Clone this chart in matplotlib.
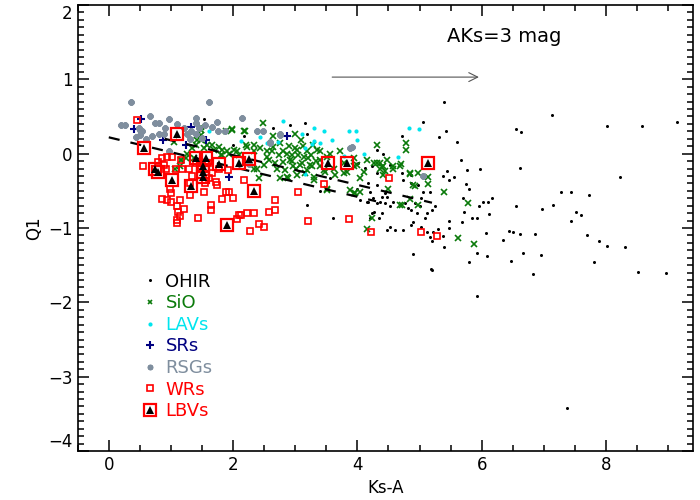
import matplotlib
matplotlib.use('Agg')
import matplotlib.pyplot as plt
from matplotlib.ticker import MultipleLocator
from matplotlib.lines import Line2D

# OH/IR stars
ohir_x = [5.39, 5.05, 4.72, 5.43, 5.32, 5.60, 7.13, 8.01, 8.58, 9.15, 6.55, 6.64, 5.66, 5.76, 5.98,
          5.44, 5.38, 5.48, 5.55, 6.61, 5.75, 5.80, 5.70, 5.96, 6.02, 6.10, 6.17, 6.11, 5.85, 5.92,
          5.71, 5.68, 5.47, 5.47, 5.29, 5.37, 5.20, 5.39, 5.20, 5.93, 5.80, 6.09, 5.93, 6.07, 6.35,
          6.44, 6.51, 6.62, 6.86, 6.56, 6.47, 6.66, 6.95, 6.83, 6.97, 7.14, 7.27, 7.44, 7.72, 7.43,
          7.51, 7.59, 7.69, 7.89, 8.01, 8.30, 7.80, 8.51, 8.22, 8.97, 7.37,
          4.15, 4.53, 4.71, 4.74, 4.87, 4.87, 4.98, 5.06, 5.17, 5.03, 4.93, 4.82, 4.87, 4.77, 4.96,
          5.01, 4.58, 4.45, 4.37, 4.31, 4.39, 4.45, 4.53, 4.26, 4.23, 4.39, 4.34, 4.21, 4.53, 4.61,
          4.87, 4.90, 5.09, 5.12, 5.20, 5.25, 5.03, 5.12, 5.22, 5.17, 4.47, 4.74,
          3.19, 3.40, 4.01, 4.13, 4.32, 4.17, 4.21, 4.17, 4.25, 4.47, 4.04, 3.99, 4.31, 4.31, 4.42,
          4.23, 3.56, 1.53, 2.17, 2.65, 2.91, 3.15, 3.19, 2.00, 3.60, 4.90, 5.18]
ohir_y = [0.70, 0.42, 0.24, 0.31, 0.22, 0.16, 0.52, 0.37, 0.37, 0.42, 0.33, 0.29, -0.08, -0.22, -0.21,
          -0.23, -0.30, -0.36, -0.32, -0.19, -0.41, -0.47, -0.60, -0.70, -0.65, -0.65, -0.60, -0.81, -0.86, -0.86,
          -0.78, -0.92, -0.90, -1.00, -1.02, -1.11, -1.17, -1.26, -1.57, -1.34, -1.46, -1.37, -1.91, -1.07, -1.16,
          -1.04, -1.05, -1.08, -1.08, -0.71, -1.45, -1.34, -1.36, -1.62, -0.74, -0.69, -0.52, -0.51, -0.55, -0.90,
          -0.78, -0.82, -1.09, -1.17, -1.24, -1.25, -1.46, -1.59, -0.32, -1.60, -3.42,
          -0.65, -0.15, -0.26, -0.35, -0.29, -0.40, -0.42, -0.51, -0.51, -0.59, -0.66, -0.73, -0.76, -0.67, -0.80,
          -0.71, -0.65, -0.67, -0.65, -0.67, -0.58, -0.53, -0.71, -0.78, -0.80, -0.80, -0.87, -0.87, -0.98, -1.03,
          -0.96, -0.92, -0.87, -0.80, -0.76, -0.71, -0.98, -1.05, -1.05, -1.12, -1.03, -1.03,
          -0.69, -0.50, -0.13, -0.19, -0.26, -0.39, -0.51, -0.65, -0.60, -0.58, -0.62, -0.47, -0.42, 0.05, 0.00,
          -0.17, -0.33, 0.46, 0.24, 0.34, 0.39, 0.41, 0.27, 0.12, -0.87, -1.35, -1.55]

# SiO masers
sio_x = [4.78, 4.78, 4.70, 4.84, 4.98, 5.13, 5.14, 4.92, 4.84, 4.71, 5.40, 5.78, 5.62, 5.88, 4.23,
         4.15, 4.50, 4.39, 4.45, 4.58, 4.32,
         1.49, 2.48, 1.99, 2.19, 2.65, 3.09, 3.00, 1.48, 1.42, 1.66, 1.82, 1.16, 1.37, 1.80, 1.93,
         2.07, 2.23, 2.33, 2.39, 2.41, 2.55, 2.65, 2.76, 2.81, 2.95, 3.03, 3.19, 3.29, 3.40, 3.51,
         2.81, 2.97, 3.08, 3.24, 3.40, 3.03, 3.30, 3.48, 2.76, 2.89, 1.05,
         2.20, 2.33, 2.44, 2.55, 2.63, 2.86, 2.92, 3.00, 3.05, 3.11, 3.21, 3.27, 3.35, 3.40, 3.46,
         3.56, 3.62, 3.64, 3.72, 3.78, 3.83, 3.94, 3.99, 4.04, 4.10, 4.15, 4.26, 4.31, 4.37, 4.42,
         4.47, 2.33, 2.71, 2.87, 3.19, 3.51, 3.88, 3.94,
         3.78, 3.94, 4.37, 4.42, 4.58, 4.69, 4.85, 4.90, 3.96, 4.04, 4.69, 4.98, 3.16, 3.30, 3.51,
         1.14, 1.17, 1.34, 1.40, 1.48, 1.42, 1.53, 1.58, 1.69, 1.77, 1.82, 1.90, 1.99, 1.88, 2.17,
         2.01, 2.09, 1.26, 1.24, 1.07, 1.48,
         2.68, 2.74, 2.84, 2.95, 3.02, 3.14, 3.25, 3.33, 2.58, 2.50, 2.90, 3.12]
sio_y = [0.14, 0.05, -0.14, -0.27, -0.26, -0.32, -0.41, -0.43, -0.61, -0.69, -0.52, -0.66, -1.14, -1.22, -0.86,
         -1.02, -0.47, -0.18, -0.23, -0.21, -0.13,
         0.36, 0.41, 0.33, 0.30, 0.24, 0.18, 0.27, 0.25, 0.18, 0.12, 0.05, -0.08, -0.06, -0.02, 0.00,
         0.03, 0.09, 0.12, -0.20, -0.33, 0.03, 0.09, 0.14, 0.03, -0.02, 0.05, 0.03, 0.12, 0.03, -0.04,
         -0.11, -0.17, -0.15, -0.15, -0.17, -0.29, -0.31, -0.24, -0.33, -0.33, 0.16,
         0.12, 0.03, 0.08, -0.04, 0.03, 0.00, -0.08, 0.07, -0.02, -0.13, -0.06, -0.17, 0.05, -0.08, -0.22,
         0.00, -0.20, -0.29, 0.03, -0.13, -0.24, -0.06, -0.15, -0.33, -0.24, -0.08, -0.13, 0.12, -0.20, -0.29,
         -0.08, -0.20, -0.20, -0.31, -0.22, -0.49, -0.49, -0.53,
         -0.26, -0.17, -0.12, -0.17, -0.17, -0.17, -0.26, -0.42, -0.53, -0.51, -0.69, -0.69, -0.26, -0.35, -0.47,
         -0.17, -0.08, 0.07, 0.12, 0.18, 0.25, 0.07, 0.12, 0.05, 0.09, -0.02, 0.03, 0.32, 0.30, 0.30,
         0.05, -0.02, 0.00, -0.06, -0.20, 0.32,
         -0.12, -0.02, -0.22, -0.10, -0.20, -0.05, -0.02, -0.10, -0.08, -0.15, 0.10, 0.10]

# LAVs
lav_x = [3.31, 3.46, 3.11, 3.86, 3.98, 3.59, 3.99, 3.30, 3.27, 3.40, 3.15, 4.10, 3.78, 4.83, 4.99,
         4.65, 3.16, 1.61, 2.12, 2.44, 2.55, 2.73, 2.81]
lav_y = [0.34, 0.31, 0.27, 0.31, 0.31, 0.18, 0.18, 0.17, 0.13, 0.14, 0.07, 0.00, -0.03, 0.34, 0.33,
         -0.04, -0.28, 0.30, 0.17, 0.23, 0.15, 0.16, 0.44]

# SRs
sr_x = [0.52, 0.41, 0.87, 1.33, 1.25, 1.57, 1.94, 2.86]
sr_y = [0.46, 0.33, 0.19, 0.36, 0.12, 0.19, -0.32, 0.24]

# RSGs
rsg_x = [0.36, 1.61, 0.67, 0.97, 0.19, 0.26, 0.49, 0.54, 0.43, 0.51, 0.75, 0.81, 0.69, 0.81, 0.89,
         1.21, 1.26, 1.40, 1.40, 1.32, 1.40, 1.45, 1.66, 1.74, 1.75, 1.87, 2.15, 2.39, 2.48, 2.60,
         2.76, 0.97, 2.25, 1.50, 0.51, 3.88, 5.06, 2.60, 3.91, 2.76, 0.60, 0.90, 1.10, 1.55, 1.30]
rsg_y = [0.69, 0.69, 0.51, 0.46, 0.39, 0.39, 0.34, 0.30, 0.23, 0.25, 0.41, 0.41, 0.24, 0.27, 0.27,
         0.34, 0.27, 0.48, 0.41, 0.30, 0.27, 0.34, 0.36, 0.42, 0.31, 0.31, 0.48, 0.31, 0.31, 0.16,
         0.25, 0.04, -0.14, 0.21, 0.32, 0.07, -0.30, 0.14, 0.09, 0.27, 0.20, 0.35, 0.40, 0.38, 0.20]

# WRs
wr_x = [0.46, 0.55, 0.86, 0.93, 1.02, 0.79, 0.89, 0.92, 1.08, 1.16, 1.18, 1.29, 1.66, 1.61, 1.72,
        1.77, 1.92, 2.17, 1.74, 1.54, 1.31, 1.14, 1.00, 0.98, 0.85, 0.94, 1.00, 1.09, 1.21, 1.11,
        1.14, 1.09, 1.10, 1.44, 1.64, 1.65, 1.82, 1.88, 1.94, 2.00, 2.09, 2.13, 2.23, 2.33, 2.07,
        2.42, 2.50, 2.28, 2.58, 2.68, 2.67, 3.05, 3.21, 1.40, 1.48, 4.51, 3.47, 3.86, 4.22, 5.02,
        5.28, 1.34, 1.30, 1.60, 1.55]
wr_y = [0.45, -0.17, -0.06, -0.05, -0.05, -0.11, -0.15, -0.21, -0.21, -0.08, -0.21, -0.21, -0.26, -0.33, -0.38,
        -0.20, -0.22, -0.35, -0.42, -0.51, -0.56, -0.62, -0.53, -0.47, -0.61, -0.62, -0.65, -0.70, -0.75, -0.79,
        -0.84, -0.89, -0.93, -0.86, -0.69, -0.76, -0.61, -0.52, -0.52, -0.59, -0.83, -0.82, -0.80, -0.80, -0.88,
        -0.95, -0.99, -1.04, -0.79, -0.76, -0.63, -0.52, -0.91, -0.12, -0.17, -0.33, -0.41, -0.88, -1.06, -1.06,
        -1.11, -0.30, -0.40, -0.12, -0.40]

# LBVs
lbv_x = [0.56, 1.10, 0.74, 0.79, 1.02, 1.33, 1.40, 1.57, 1.52, 1.51, 1.51, 1.77, 2.10, 2.26, 2.33,
         1.90, 3.52, 3.83, 5.14]
lbv_y = [0.07, 0.27, -0.21, -0.24, -0.36, -0.44, -0.06, -0.06, -0.17, -0.25, -0.32, -0.14, -0.12, -0.07, -0.50,
         -0.96, -0.12, -0.12, -0.13]

# dashed lines
line1_x = [0.0, 4.3]
line1_y = [0.22, -0.64]
line2_x = [0.9, 5.2]
line2_y = [0.20, -0.66]

y_ticks = [-4, -3, -2, -1, 0, 1, 2]

c_sio = '#0a7a0a'
c_lav = '#00e5ee'
c_sr = '#000080'
c_rsg = '#7f8e9e'
c_wr = '#ff0000'

fig = plt.figure(figsize=(7, 5), dpi=100)
ax = fig.add_axes([0.111, 0.098, 0.879, 0.892])

ax.plot(ohir_x, ohir_y, 'o', color='black', ms=2.2, mew=0, ls='none')
ax.plot(sio_x, sio_y, 'x', color=c_sio, ms=4, mew=1.2, ls='none')
ax.plot(lav_x, lav_y, 'o', color=c_lav, ms=3, mew=0, ls='none')
ax.plot(sr_x, sr_y, '+', color=c_sr, ms=6, mew=1.5, ls='none')
ax.plot(rsg_x, rsg_y, marker=(8, 2, 0), color=c_rsg, ms=4.5, mew=1.5, ls='none')
ax.plot(wr_x, wr_y, 's', mfc='none', mec=c_wr, ms=4, mew=1.2, ls='none')

ax.plot(line1_x, line1_y, '--', color='black', lw=1.6, dashes=(5, 5))
ax.plot(line2_x, line2_y, '--', color='black', lw=1.6, dashes=(5, 5))

ax.plot(lbv_x, lbv_y, 's', mfc='none', mec=c_wr, ms=8.5, mew=1.6, ls='none')
ax.plot(lbv_x, lbv_y, '^', color='black', ms=6, mew=0, ls='none')

# extinction vector
ax.annotate('', xy=(6.0, 1.03), xytext=(3.55, 1.03),
            arrowprops=dict(arrowstyle='->', color='#555555', lw=0.8, mutation_scale=16))
ax.text(5.44, 1.57, 'AKs=3 mag', fontsize=14, va='center')

ax.xaxis.set_major_locator(MultipleLocator(2))
ax.xaxis.set_minor_locator(MultipleLocator(0.5))
ax.set_yticks(y_ticks)
ax.yaxis.set_minor_locator(MultipleLocator(0.1))
ax.set_xlim(-0.5, 9.4)
ax.set_ylim(-4, 2)
ax.tick_params(which='both', direction='in', top=True, right=True, labelsize=12, width=1.1)
ax.tick_params(which='major', length=8)
ax.tick_params(which='minor', length=4.5)
for s in ax.spines.values():
    s.set_linewidth(1.2)
ax.set_xlabel('Ks-A', fontsize=12)
ax.set_ylabel('Q1', fontsize=12)

# keep the end labels of the y axis inside the frame
yt = ax.yaxis.get_major_ticks()
yt[0].label1.set_verticalalignment('bottom')
yt[-1].label1.set_verticalalignment('top')

handles = [
    Line2D([], [], marker='o', color='black', ms=2.2, mew=0, ls='none'),
    Line2D([], [], marker='x', color=c_sio, ms=3.5, mew=1.2, ls='none'),
    Line2D([], [], marker='o', color=c_lav, ms=3, mew=0, ls='none'),
    Line2D([], [], marker='+', color=c_sr, ms=6, mew=1.5, ls='none'),
    Line2D([], [], marker=(8, 2, 0), color=c_rsg, ms=4, mew=1.4, ls='none'),
    Line2D([], [], marker='s', mfc='none', mec=c_wr, ms=4, mew=1.2, ls='none'),
    (Line2D([], [], marker='s', mfc='none', mec=c_wr, ms=8.5, mew=1.6, ls='none'),
     Line2D([], [], marker='^', color='black', ms=6, mew=0, ls='none')),
]
labels = ['OHIR', 'SiO', 'LAVs', 'SRs', 'RSGs', 'WRs', 'LBVs']
leg = ax.legend(handles, labels, loc='upper left', bbox_to_anchor=(0.103, 0.40),
                frameon=False, fontsize=13, handlelength=1.0, handletextpad=0.35,
                labelspacing=0.2, borderpad=0, borderaxespad=0)
for t, c in zip(leg.get_texts(), ['black', c_sio, c_lav, c_sr, c_rsg, c_wr, c_wr]):
    t.set_color(c)

fig.savefig('out.png', dpi=100)
